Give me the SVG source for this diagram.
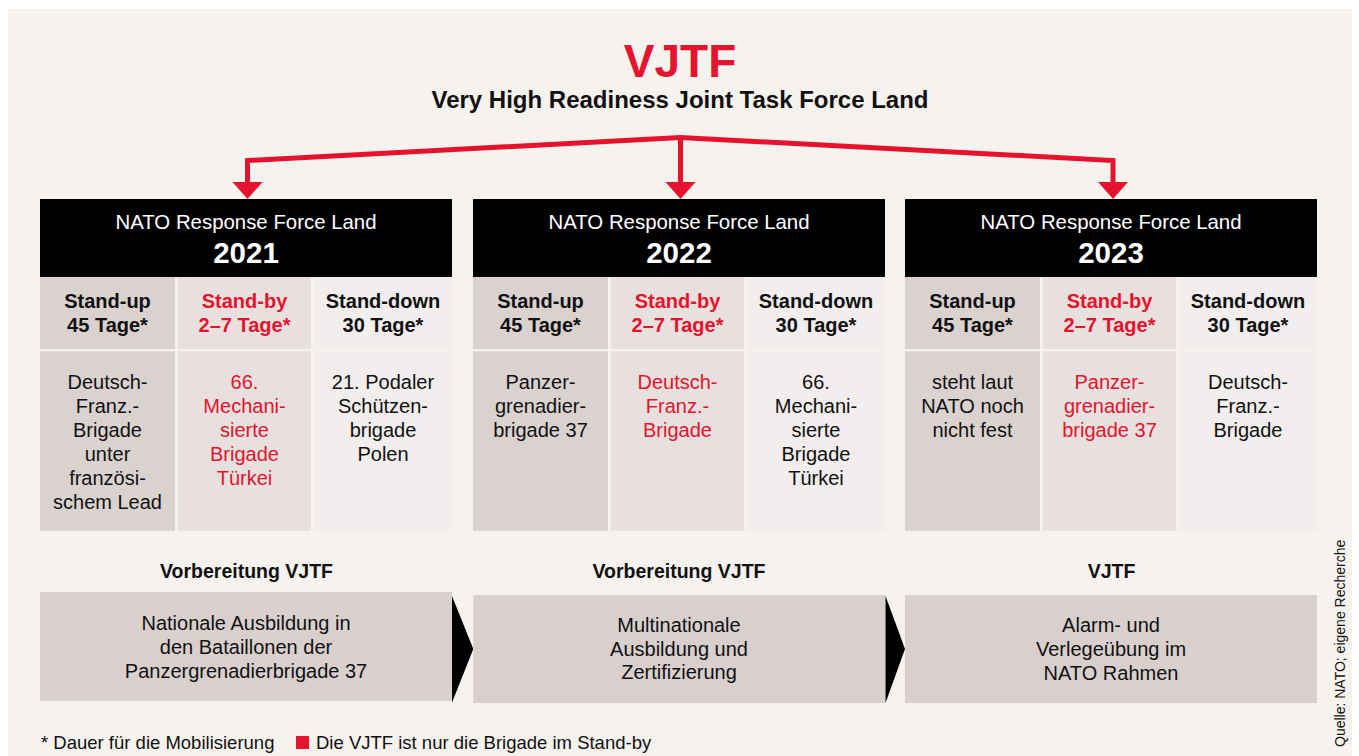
<svg xmlns="http://www.w3.org/2000/svg" width="1359" height="756" viewBox="0 0 1359 756">
  <defs>
    <style>
      text { font-family: "Liberation Sans", Arial, sans-serif; text-anchor: middle; fill: #111; }
      .title { font-size: 46px; font-weight: bold; fill: #e5132d; }
      .subtitle { font-size: 24px; font-weight: bold; }
      .hdr { font-size: 20.4px; fill: #fff; }
      .year { font-size: 29.5px; font-weight: bold; fill: #fff; }
      .phase { font-size: 20px; font-weight: bold; }
      .body { font-size: 20px; }
      .red { fill: #e5132d; }
      .stage { font-size: 19.5px; font-weight: bold; }
      .note { font-size: 18.5px; text-anchor: start; }
      .src { font-size: 14px; text-anchor: start; }
      .head { fill: #000; }
      .c1 { fill: #dad2cf; }
      .c2 { fill: #e7e0de; }
      .c3 { fill: #f2eeed; }
      .bar { fill: #d9d0cd; }
      .chev { fill: #000; }
      .link { fill: none; stroke: #e5132d; stroke-width: 5; stroke-linejoin: miter; }
      .tip { fill: #e5132d; }
    </style>
  </defs>

  <!-- page -->
  <rect x="0" y="0" width="1359" height="756" fill="#ffffff"/>
  <rect x="8" y="9" width="1344" height="747" fill="#f6f2ee"/>

  <!-- title -->
  <g id="title">
    <text class="title" x="680" y="77">VJTF</text>
    <text class="subtitle" x="680" y="108">Very High Readiness Joint Task Force Land</text>
  </g>

  <!-- connectors from the title to the three years -->
  <g id="connectors">
    <polyline class="link" points="247.5,183 247.5,160.5 680.5,137.5 1113,160.5 1113,183"/>
    <line class="link" x1="680.5" y1="137.5" x2="680.5" y2="183"/>
    <polygon class="tip" points="232.5,182 262.5,182 247.5,199"/>
    <polygon class="tip" points="665.5,182 695.5,182 680.5,199"/>
    <polygon class="tip" points="1098,182 1128,182 1113,199"/>
  </g>

  <!-- 2021 -->
  <g id="nrf-2021">
    <rect class="head" x="40" y="199" width="412" height="78"/>
    <text class="hdr" x="246" y="229">NATO Response Force Land</text>
    <text class="year" x="246" y="263">2021</text>
    <rect class="c1" x="40" y="277" width="135" height="72"/>
    <rect class="c2" x="177.7" y="277" width="133.3" height="72"/>
    <rect class="c3" x="313.7" y="277" width="138.3" height="72"/>
    <rect class="c1" x="40" y="351.3" width="135" height="179.5"/>
    <rect class="c2" x="177.7" y="351.3" width="133.3" height="179.5"/>
    <rect class="c3" x="313.7" y="351.3" width="138.3" height="179.5"/>
    <text class="phase" x="107.5" y="308">Stand-up</text>
    <text class="phase" x="107.5" y="332">45 Tage*</text>
    <text class="phase red" x="244.5" y="308">Stand-by</text>
    <text class="phase red" x="244.5" y="332">2–7 Tage*</text>
    <text class="phase" x="383" y="308">Stand-down</text>
    <text class="phase" x="383" y="332">30 Tage*</text>
    <text class="body" x="107.5" y="389">Deutsch-</text>
    <text class="body" x="107.5" y="413">Franz.-</text>
    <text class="body" x="107.5" y="437">Brigade</text>
    <text class="body" x="107.5" y="461">unter</text>
    <text class="body" x="107.5" y="485">französi-</text>
    <text class="body" x="107.5" y="509">schem Lead</text>
    <text class="body red" x="244.5" y="389">66.</text>
    <text class="body red" x="244.5" y="413">Mechani-</text>
    <text class="body red" x="244.5" y="437">sierte</text>
    <text class="body red" x="244.5" y="461">Brigade</text>
    <text class="body red" x="244.5" y="485">Türkei</text>
    <text class="body" x="383" y="389">21. Podaler</text>
    <text class="body" x="383" y="413">Schützen-</text>
    <text class="body" x="383" y="437">brigade</text>
    <text class="body" x="383" y="461">Polen</text>
  </g>

  <!-- 2022 -->
  <g id="nrf-2022">
    <rect class="head" x="473" y="199" width="412" height="78"/>
    <text class="hdr" x="679" y="229">NATO Response Force Land</text>
    <text class="year" x="679" y="263">2022</text>
    <rect class="c1" x="473" y="277" width="135" height="72"/>
    <rect class="c2" x="610.7" y="277" width="133.3" height="72"/>
    <rect class="c3" x="746.7" y="277" width="138.3" height="72"/>
    <rect class="c1" x="473" y="351.3" width="135" height="179.5"/>
    <rect class="c2" x="610.7" y="351.3" width="133.3" height="179.5"/>
    <rect class="c3" x="746.7" y="351.3" width="138.3" height="179.5"/>
    <text class="phase" x="540.5" y="308">Stand-up</text>
    <text class="phase" x="540.5" y="332">45 Tage*</text>
    <text class="phase red" x="677.5" y="308">Stand-by</text>
    <text class="phase red" x="677.5" y="332">2–7 Tage*</text>
    <text class="phase" x="816" y="308">Stand-down</text>
    <text class="phase" x="816" y="332">30 Tage*</text>
    <text class="body" x="540.5" y="389">Panzer-</text>
    <text class="body" x="540.5" y="413">grenadier-</text>
    <text class="body" x="540.5" y="437">brigade 37</text>
    <text class="body red" x="677.5" y="389">Deutsch-</text>
    <text class="body red" x="677.5" y="413">Franz.-</text>
    <text class="body red" x="677.5" y="437">Brigade</text>
    <text class="body" x="816" y="389">66.</text>
    <text class="body" x="816" y="413">Mechani-</text>
    <text class="body" x="816" y="437">sierte</text>
    <text class="body" x="816" y="461">Brigade</text>
    <text class="body" x="816" y="485">Türkei</text>
  </g>

  <!-- 2023 -->
  <g id="nrf-2023">
    <rect class="head" x="905" y="199" width="412" height="78"/>
    <text class="hdr" x="1111" y="229">NATO Response Force Land</text>
    <text class="year" x="1111" y="263">2023</text>
    <rect class="c1" x="905" y="277" width="135" height="72"/>
    <rect class="c2" x="1042.7" y="277" width="133.3" height="72"/>
    <rect class="c3" x="1178.7" y="277" width="138.3" height="72"/>
    <rect class="c1" x="905" y="351.3" width="135" height="179.5"/>
    <rect class="c2" x="1042.7" y="351.3" width="133.3" height="179.5"/>
    <rect class="c3" x="1178.7" y="351.3" width="138.3" height="179.5"/>
    <text class="phase" x="972.5" y="308">Stand-up</text>
    <text class="phase" x="972.5" y="332">45 Tage*</text>
    <text class="phase red" x="1109.5" y="308">Stand-by</text>
    <text class="phase red" x="1109.5" y="332">2–7 Tage*</text>
    <text class="phase" x="1248" y="308">Stand-down</text>
    <text class="phase" x="1248" y="332">30 Tage*</text>
    <text class="body" x="972.5" y="389">steht laut</text>
    <text class="body" x="972.5" y="413">NATO noch</text>
    <text class="body" x="972.5" y="437">nicht fest</text>
    <text class="body red" x="1109.5" y="389">Panzer-</text>
    <text class="body red" x="1109.5" y="413">grenadier-</text>
    <text class="body red" x="1109.5" y="437">brigade 37</text>
    <text class="body" x="1248" y="389">Deutsch-</text>
    <text class="body" x="1248" y="413">Franz.-</text>
    <text class="body" x="1248" y="437">Brigade</text>
  </g>

  <!-- training stages -->
  <g id="stage-1">
    <text class="stage" x="246.5" y="578">Vorbereitung VJTF</text>
    <rect class="bar" x="40" y="592" width="412" height="109"/>
    <text class="body" x="246" y="630">Nationale Ausbildung in</text>
    <text class="body" x="246" y="654">den Bataillonen der</text>
    <text class="body" x="246" y="678">Panzergrenadierbrigade 37</text>
    <polygon class="chev" points="452,596 473.3,649 452,702.5"/>
  </g>

  <g id="stage-2">
    <text class="stage" x="679" y="578">Vorbereitung VJTF</text>
    <rect class="bar" x="473.3" y="595" width="412" height="108"/>
    <text class="body" x="679" y="632">Multinationale</text>
    <text class="body" x="679" y="655.5">Ausbildung und</text>
    <text class="body" x="679" y="679">Zertifizierung</text>
    <polygon class="chev" points="885.5,596 905,649 885.5,703"/>
  </g>

  <g id="stage-3">
    <text class="stage" x="1111.5" y="578">VJTF</text>
    <rect class="bar" x="905" y="595" width="412" height="108"/>
    <text class="body" x="1111" y="632">Alarm- und</text>
    <text class="body" x="1111" y="656">Verlegeübung im</text>
    <text class="body" x="1111" y="680">NATO Rahmen</text>
  </g>

  <!-- footnotes -->
  <g id="legend">
    <text class="note" x="41" y="748.5">* Dauer für die Mobilisierung</text>
    <rect x="296" y="736" width="13" height="13" fill="#e5132d"/>
    <text class="note" x="316" y="748.5">Die VJTF ist nur die Brigade im Stand-by</text>
  </g>
  <g id="source">
    <text class="src" transform="translate(1345,747) rotate(-90)" x="0" y="0">Quelle: NATO; eigene Recherche</text>
  </g>
</svg>
